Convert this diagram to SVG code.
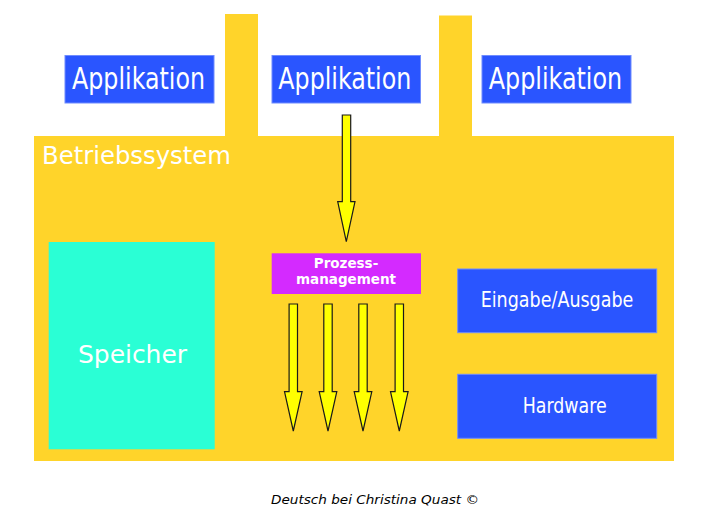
<svg xmlns="http://www.w3.org/2000/svg" xmlns:xlink="http://www.w3.org/1999/xlink" width="718" height="508" viewBox="0 0 718 508">
<style>
.os{fill:#ffd42a}
.blue{fill:#2a55ff;stroke:#6f8cff;stroke-width:1}
.mem{fill:#2affd5}
.proc{fill:#d42aff}
.arr{fill:#ffff00;stroke:#1a1a1a;stroke-width:1.2;stroke-linejoin:miter}
.t{fill:#ffffff;font-family:"DejaVu Sans",sans-serif}
.cond{font-family:"DejaVu Sans Condensed","DejaVu Sans",sans-serif}
</style>
<defs>
<path id="small" d="M-4.2,0 H4.2 V87.7 H8.8 L0,127 L-8.8,87.7 H-4.2 Z"/>
</defs>
<rect width="718" height="508" fill="#ffffff"/>
<g id="betriebssystem">
<path class="os" d="M34,136 H225 V14 H258 V136 H439 V15.5 H472 V136 H674 V461 H34 Z"/>
<text class="t" x="42" y="163.5" font-size="24.3" textLength="189" lengthAdjust="spacingAndGlyphs">Betriebssystem</text>
</g>
<g id="app1">
<rect class="blue" x="65" y="55.5" width="149" height="47.5"/>
<text class="t cond" x="72" y="88.7" font-size="30" textLength="133" lengthAdjust="spacingAndGlyphs">Applikation</text>
</g>
<g id="app2">
<rect class="blue" x="272" y="55.5" width="148.5" height="47.5"/>
<text class="t cond" x="278.3" y="88.7" font-size="30" textLength="133" lengthAdjust="spacingAndGlyphs">Applikation</text>
</g>
<g id="app3">
<rect class="blue" x="482" y="55.5" width="149" height="47.5"/>
<text class="t cond" x="488.7" y="88.7" font-size="30" textLength="133.5" lengthAdjust="spacingAndGlyphs">Applikation</text>
</g>
<g id="speicher">
<rect class="mem" x="48.7" y="242" width="166" height="207.3"/>
<text class="t" x="78" y="363.3" font-size="24.7" textLength="109" lengthAdjust="spacingAndGlyphs">Speicher</text>
</g>
<g id="prozessmanagement">
<rect class="proc" x="271.7" y="253.3" width="149.3" height="40.7"/>
<text class="t" x="346" y="267.7" font-size="13.5" font-weight="bold" text-anchor="middle">Prozess-</text>
<text class="t" x="346" y="284.3" font-size="13.5" font-weight="bold" text-anchor="middle">management</text>
</g>
<g id="eingabe">
<rect class="blue" x="457.7" y="269" width="199" height="63.7"/>
<text class="t cond" x="480.7" y="307.3" font-size="21.5" textLength="152.7" lengthAdjust="spacingAndGlyphs">Eingabe/Ausgabe</text>
</g>
<g id="hardware">
<rect class="blue" x="457.7" y="374.3" width="199" height="64"/>
<text class="t cond" x="522.7" y="412.7" font-size="21.5" textLength="84" lengthAdjust="spacingAndGlyphs">Hardware</text>
</g>
<g id="connectors">
<path class="arr" d="M342.3,115 H350.7 V201.7 H355 L346.3,241.7 L337.7,201.7 H342.3 Z"/>
<use class="arr" xlink:href="#small" transform="translate(293.3,304)"/>
<use class="arr" xlink:href="#small" transform="translate(328,304)"/>
<use class="arr" xlink:href="#small" transform="translate(363,304)"/>
<use class="arr" xlink:href="#small" transform="translate(399.3,304)"/>
</g>
<text x="375" y="503.5" font-size="13" font-style="italic" text-anchor="middle" textLength="208" lengthAdjust="spacingAndGlyphs" style="font-family:'DejaVu Sans',sans-serif;fill:#000000">Deutsch bei Christina Quast ©</text>
</svg>
